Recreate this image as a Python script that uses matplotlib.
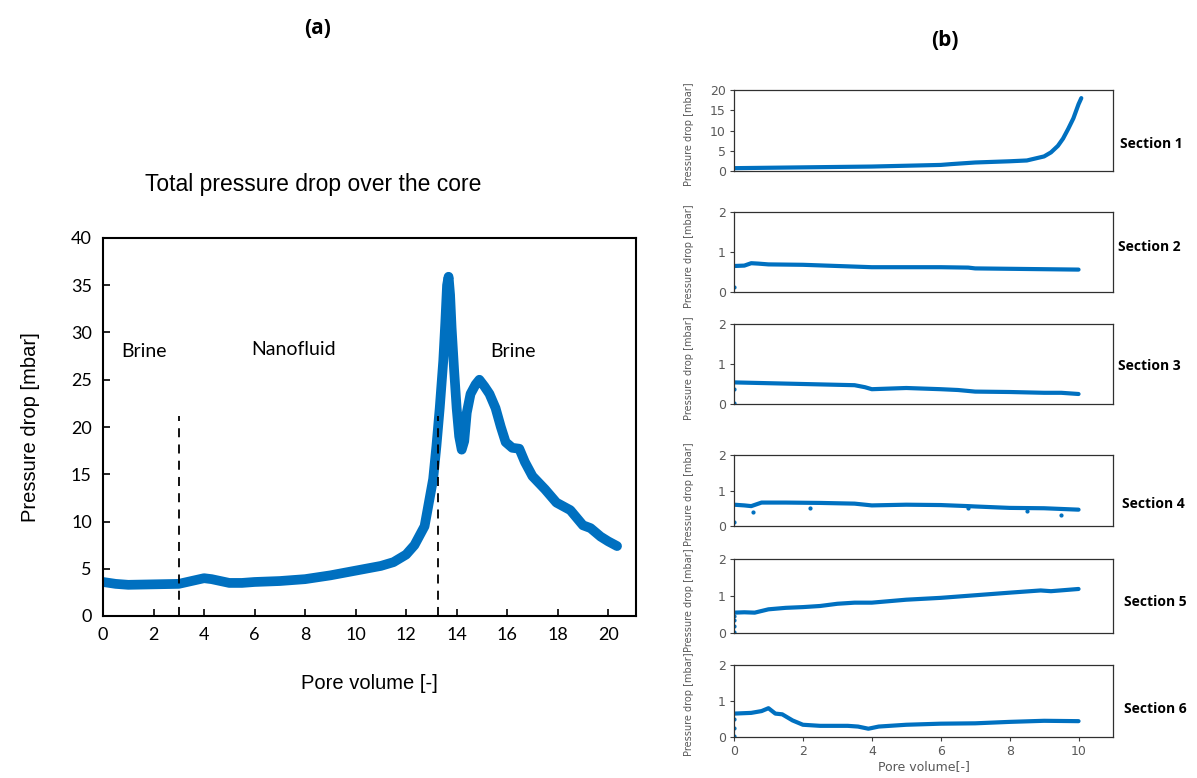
import numpy as np
import matplotlib.pyplot as plt

BLUE = '#0070C0'

# (a) total pressure drop over the core
pv_total = [0, 0.5, 1, 2, 3, 3.5, 4, 4.3, 5, 5.5, 6, 7, 8, 9, 9.8, 10, 11, 11.5, 12,
            12.33, 12.73, 13.07, 13.2, 13.33, 13.47, 13.55, 13.62, 13.68, 13.74, 13.8, 13.9,
            14.0, 14.1, 14.2, 14.3, 14.4, 14.55, 14.75, 14.9, 15.1, 15.3, 15.54, 15.75, 15.94,
            16.2, 16.48, 16.7, 17.0, 17.5, 17.95, 18.5, 19.0, 19.3, 19.7, 20.0, 20.35]
dp_total = [3.6, 3.4, 3.3, 3.35, 3.4, 3.7, 4.0, 3.9, 3.5, 3.5, 3.6, 3.7, 3.9, 4.3, 4.7, 4.8,
            5.3, 5.7, 6.5, 7.5, 9.5, 14.5, 18.0, 22.0, 27.0, 31.0, 35.0, 35.9, 34.0, 30.5, 26.0,
            22.0, 19.0, 17.6, 18.5, 21.5, 23.5, 24.5, 25.0, 24.3, 23.5, 22.0, 20.0, 18.4,
            17.8, 17.7, 16.3, 14.8, 13.4, 12.0, 11.2, 9.6, 9.3, 8.4, 7.9, 7.4]

# (b) pressure drop per section
pv_s1 = [0, 1, 2, 3, 4, 5, 6, 6.3, 7, 8, 8.5, 9.0, 9.2, 9.4, 9.55, 9.7, 9.85, 10.0, 10.08]
dp_s1 = [0.7, 0.8, 0.9, 1.0, 1.1, 1.3, 1.5, 1.7, 2.1, 2.4, 2.6, 3.6, 4.6, 6.2, 8.0, 10.4, 13.0, 16.5, 18.0]

pv_s2 = [0, 0.3, 0.5, 0.7, 1, 2, 3, 4, 5, 6, 6.8, 7, 8, 9, 10]
dp_s2 = [0.65, 0.66, 0.72, 0.71, 0.69, 0.68, 0.65, 0.62, 0.62, 0.62, 0.61, 0.59, 0.58, 0.57, 0.56]

pv_s3 = [0, 0.5, 1, 2, 3, 3.5, 3.8, 4, 5, 6, 6.5, 7, 8, 9, 9.5, 10]
dp_s3 = [0.54, 0.53, 0.52, 0.5, 0.48, 0.47, 0.42, 0.37, 0.4, 0.37, 0.35, 0.31, 0.3, 0.28, 0.28, 0.25]

pv_s4 = [0, 0.3, 0.5, 0.8, 1.5, 2.5, 3.5, 4, 5, 6, 6.8, 7, 8, 9, 10]
dp_s4 = [0.6, 0.58, 0.56, 0.66, 0.66, 0.65, 0.63, 0.58, 0.6, 0.59, 0.56, 0.55, 0.51, 0.5, 0.46]

pv_s5 = [0, 0.3, 0.6, 1, 1.5, 2, 2.5, 3, 3.5, 4, 5, 6, 7, 8, 8.9, 9.2, 10]
dp_s5 = [0.55, 0.56, 0.55, 0.64, 0.68, 0.7, 0.73, 0.79, 0.82, 0.82, 0.9, 0.95, 1.02, 1.09, 1.15, 1.13, 1.19]

pv_s6 = [0, 0.5, 0.8, 1.0, 1.2, 1.4, 1.7, 2, 2.5, 3.3, 3.6, 3.9, 4.2, 5, 6, 7, 8, 9, 10]
dp_s6 = [0.65, 0.67, 0.72, 0.8, 0.65, 0.63, 0.46, 0.34, 0.31, 0.31, 0.29, 0.23, 0.29, 0.34, 0.37, 0.38, 0.42, 0.45, 0.44]

# stray points in the sections
out_x = {2: [0], 3: [0, 0], 4: [0, 0.55, 2.2, 6.8, 8.5, 9.5], 5: [0, 0, 0, 0], 6: [0, 0, 0]}
out_y = {2: [0.12], 3: [0.03, 0.38], 4: [0.1, 0.4, 0.52, 0.5, 0.42, 0.32], 5: [0.02, 0.2, 0.35, 0.45], 6: [0.03, 0.25, 0.5]}

sections = [(pv_s1, dp_s1), (pv_s2, dp_s2), (pv_s3, dp_s3),
            (pv_s4, dp_s4), (pv_s5, dp_s5), (pv_s6, dp_s6)]

W, H = 1197, 778
fig = plt.figure(figsize=(W / 100, H / 100), dpi=100)


def box(l, t, r, b):
    return [l / W, 1 - b / H, (r - l) / W, (b - t) / H]


# ---------- (a) ----------
ax = fig.add_axes(box(103, 238, 636, 616))
ax.plot(pv_total, dp_total, color=BLUE, lw=7, solid_capstyle='round', solid_joinstyle='round')
ax.plot([3.02, 3.02], [0, 21.2], 'k--', lw=1.3, dashes=(5, 4))
ax.plot([13.25, 13.25], [0, 21.2], 'k--', lw=1.3, dashes=(5, 4))
ax.set_xlim(0, 21.1)
ax.set_ylim(0, 40)
ax.set_xticks(range(0, 21, 2))
ax.set_yticks(range(0, 41, 5))
ax.tick_params(direction='in', length=5, width=1.2, labelsize=13, pad=8)
for lab in ax.get_xticklabels() + ax.get_yticklabels():
    lab.set_family('Lato')
for s in ax.spines.values():
    s.set_linewidth(1.5)
ax.set_xlabel('Pore volume [-]', family='Liberation Sans', fontsize=14.5, labelpad=22)
ax.set_ylabel('Pressure drop [mbar]', family='Liberation Sans', fontsize=14.5, labelpad=22)
ax.text(1.63, 28, 'Brine', family='Lato', fontsize=14, ha='center', va='center')
ax.text(7.54, 28.2, 'Nanofluid', family='Lato', fontsize=14, ha='center', va='center')
ax.text(16.25, 28, 'Brine', family='Lato', fontsize=14, ha='center', va='center')
fig.text(313 / W, 1 - 184 / H, 'Total pressure drop over the core', family='Liberation Sans',
         fontsize=16.5, ha='center', va='center')
fig.text(318 / W, 1 - 28 / H, '(a)', family='Open Sans', weight='bold', fontsize=15, ha='center', va='center')

# ---------- (b) ----------
fig.text(945 / W, 1 - 40 / H, '(b)', family='Open Sans', weight='bold', fontsize=15, ha='center', va='center')
rows = [(90, 171), (212, 292), (324, 404), (455, 526), (559, 633), (665, 737)]
label_pos = [(1120, 144), (1118, 247), (1118, 366), (1122, 504), (1124, 602), (1124, 709)]
for i, ((t, b), (px, py)) in enumerate(zip(rows, sections)):
    a = fig.add_axes(box(734, t, 1113, b))
    a.plot(px, py, color=BLUE, lw=3, solid_capstyle='round')
    n = i + 1
    if n in out_x:
        a.plot(out_x[n], out_y[n], 'o', color=BLUE, ms=2)
    a.set_xlim(0, 11)
    if n == 1:
        a.set_ylim(0, 20)
        a.set_yticks([0, 5, 10, 15, 20])
    else:
        a.set_ylim(0, 2)
        a.set_yticks([0, 1, 2])
    a.set_xticks(range(0, 11, 2))
    a.tick_params(direction='out', length=3, width=0.8, labelsize=9, colors='#404040',
                  labelcolor='#595959', pad=3)
    if n < 6:
        a.tick_params(axis='x', length=0, labelbottom=False)
    else:
        a.set_xlabel('Pore volume[-]', fontsize=9, color='#595959', labelpad=1)
    for s in a.spines.values():
        s.set_linewidth(0.9)
        s.set_color('#303030')
    a.set_ylabel('Pressure drop [mbar]', fontsize=7, color='#595959', labelpad=4)
    a.yaxis.set_label_coords(-0.105, 0.45)
    lx, ly = label_pos[i]
    fig.text(lx / W, 1 - ly / H, 'Section %d' % n, family='Open Sans',
             weight='bold', fontsize=10, ha='left', va='center')

fig.savefig('out.png', dpi=100)
